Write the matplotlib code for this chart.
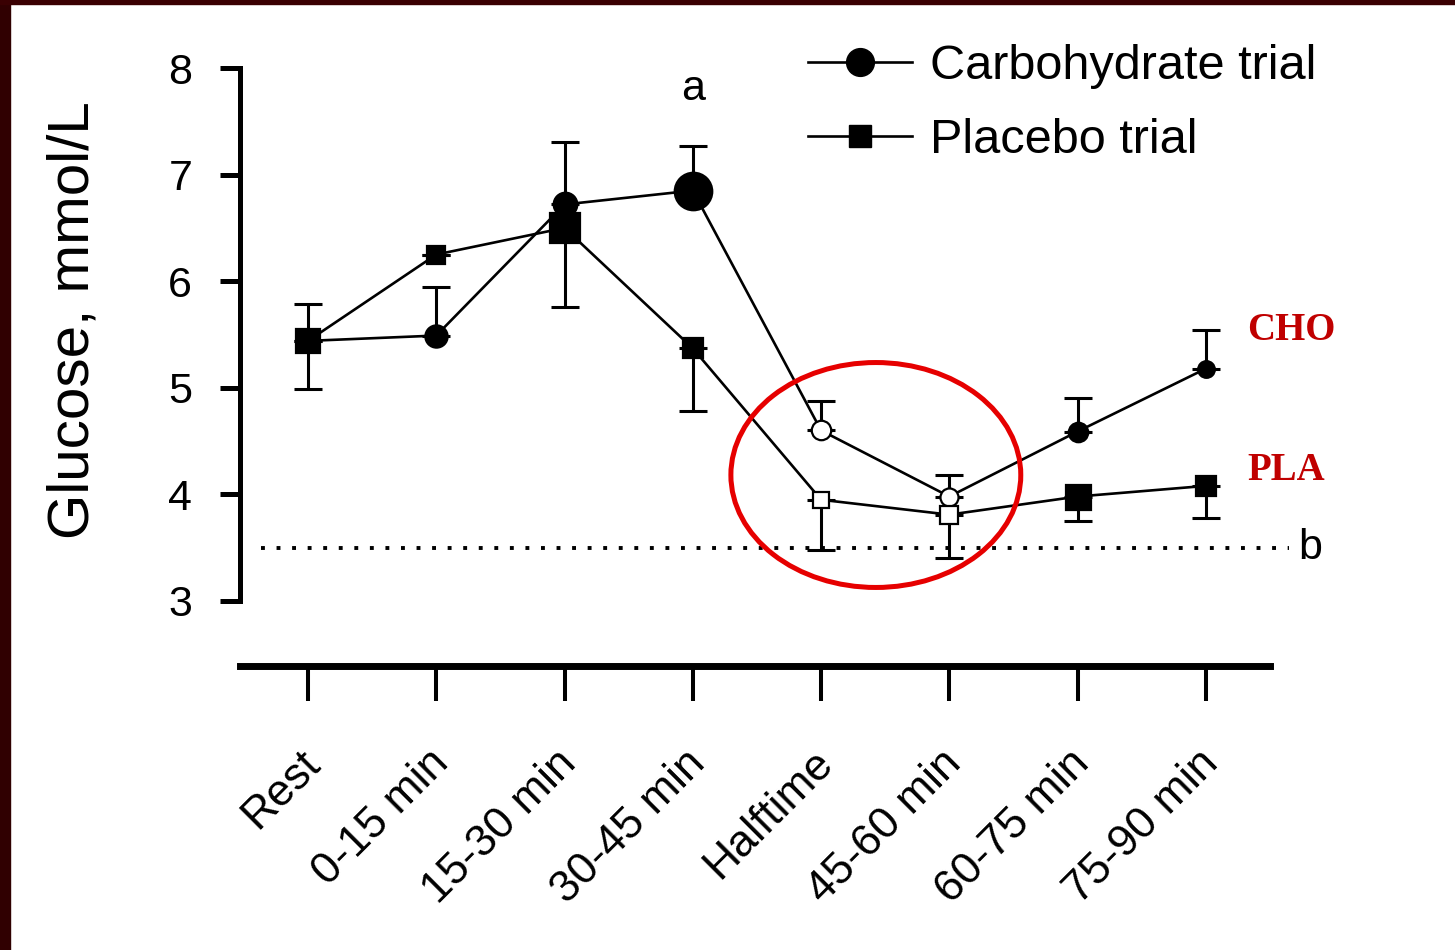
import matplotlib
matplotlib.use("Agg")
import matplotlib.pyplot as plt
from matplotlib.lines import Line2D
from matplotlib.patches import Ellipse, Rectangle
from matplotlib.transforms import ScaledTranslation
import numpy as np

# ---- data ----
categories = ["Rest", "0-15 min", "15-30 min", "30-45 min", "Halftime",
              "45-60 min", "60-75 min", "75-90 min"]
cho_mean = [5.44, 5.49, 6.72, 6.85, 4.60, 3.98, 4.59, 5.18]
cho_sem_up = [0.35, 0.46, 0.59, 0.42, 0.28, 0.20, 0.31, 0.36]
pla_mean = [5.44, 6.25, 6.50, 5.37, 3.95, 3.81, 3.98, 4.08]
pla_sem_down = [0.45, 0.00, 0.74, 0.59, 0.47, 0.41, 0.23, 0.30]
hypo_threshold = 3.5
y_ticks = [3, 4, 5, 6, 7, 8]

# ---- styling ----
open_points = [False, False, False, False, True, True, False, False]
cho_ms = [16, 16, 17, 27, 14, 13, 14, 12]     # marker size, points
pla_ms = [17, 13, 21, 14, 12, 13, 18, 14]
DARK_RED = "#c00000"
FONT = "Liberation Sans"

plt.rcParams["font.family"] = FONT

fig = plt.figure(figsize=(14.55, 9.5), dpi=100)
fig.patch.set_facecolor("white")
ax = fig.add_axes([240 / 1455, 1 - 601 / 950, 1030 / 1455, 533 / 950])

x = np.arange(len(categories))

# connecting lines
ax.plot(x, cho_mean, color="black", lw=1.9, zorder=2)
ax.plot(x, pla_mean, color="black", lw=1.9, zorder=2)

# one-sided error bars
ax.errorbar(x, cho_mean, yerr=[np.zeros(len(x)), cho_sem_up], fmt="none",
            ecolor="black", elinewidth=2.2, capsize=10, capthick=2.2, zorder=1)
ax.errorbar(x, pla_mean, yerr=[pla_sem_down, np.zeros(len(x))], fmt="none",
            ecolor="black", elinewidth=2.2, capsize=10, capthick=2.2, zorder=1)

# markers
for xi, yv, ms, op in zip(x, cho_mean, cho_ms, open_points):
    ax.plot(xi, yv, marker="o", ms=ms, mfc="white" if op else "black",
            mec="black", mew=1.6, zorder=4)
for xi, yv, ms, op in zip(x, pla_mean, pla_ms, open_points):
    ax.plot(xi, yv, marker="s", ms=ms, mfc="white" if op else "black",
            mec="black", mew=1.6, zorder=5)

# hypoglycaemia reference line
ax.plot([-0.37, 7.65], [hypo_threshold, hypo_threshold], color="black",
        lw=2.8, linestyle=(0, (1, 3)), clip_on=False, zorder=1)
ax.text(7.81, hypo_threshold, "b", ha="center", va="center", fontsize=31,
        clip_on=False)
ax.text(3, 7.8, "a", ha="center", va="center", fontsize=31)

# axes
ax.set_xlim(-0.53, 7.5)
ax.set_ylim(3, 8)
ax.set_yticks(y_ticks)
ax.set_xticks(x)
ax.set_xticklabels(categories)
for s in ("top", "right"):
    ax.spines[s].set_visible(False)
ax.spines["left"].set_linewidth(3.6)
ax.spines["left"].set_bounds(3, 8)
ax.spines["bottom"].set_linewidth(5)
ax.spines["bottom"].set_position(("outward", 46.8))
ax.tick_params(axis="y", length=14.4, width=3.6, labelsize=31, pad=20)
ax.tick_params(axis="x", length=25, width=2.9, labelsize=32, pad=30,
               labelrotation=45)
offset = ScaledTranslation(20 / 100, 0, fig.dpi_scale_trans)
for lbl in ax.get_xticklabels():
    lbl.set_horizontalalignment("right")
    lbl.set_transform(lbl.get_transform() + offset)

ax.set_ylabel("Glucose, mmol/L", fontsize=42)
ax.yaxis.set_label_coords(-0.135, 0.527)

# legend
handles = [Line2D([], [], color="black", lw=1.9, marker="o", ms=20),
           Line2D([], [], color="black", lw=1.9, marker="s", ms=16)]
ax.legend(handles, ["Carbohydrate trial", "Placebo trial"], loc="upper left",
          bbox_to_anchor=(808 / 1455, 1 - 44 / 950),
          bbox_transform=fig.transFigure, frameon=False, fontsize=35,
          handlelength=2.14, handletextpad=0.37, labelspacing=0.6,
          borderpad=0, borderaxespad=0)

# highlight of the second-half dip
ax.add_patch(Ellipse((4.427, 4.182), 2.26, 2.11, fill=False, edgecolor="#e60000",
                     lw=3.6, clip_on=False, zorder=6))

# series tags
fig.text(1247 / 1455, 1 - 330 / 950, "CHO", ha="left", va="center",
         fontsize=28, fontweight="bold", family="Liberation Serif", color=DARK_RED)
fig.text(1247 / 1455, 1 - 470 / 950, "PLA", ha="left", va="center",
         fontsize=28, fontweight="bold", family="Liberation Serif", color=DARK_RED)

# slide frame
fig.patches.append(Rectangle((0, 0), 10 / 1455, 1, transform=fig.transFigure,
                             color="#300001", zorder=10))
fig.patches.append(Rectangle((0, 1 - 4 / 950), 1, 4 / 950, transform=fig.transFigure,
                             color="#3a0002", zorder=10))

fig.savefig("out.png", dpi=100)
